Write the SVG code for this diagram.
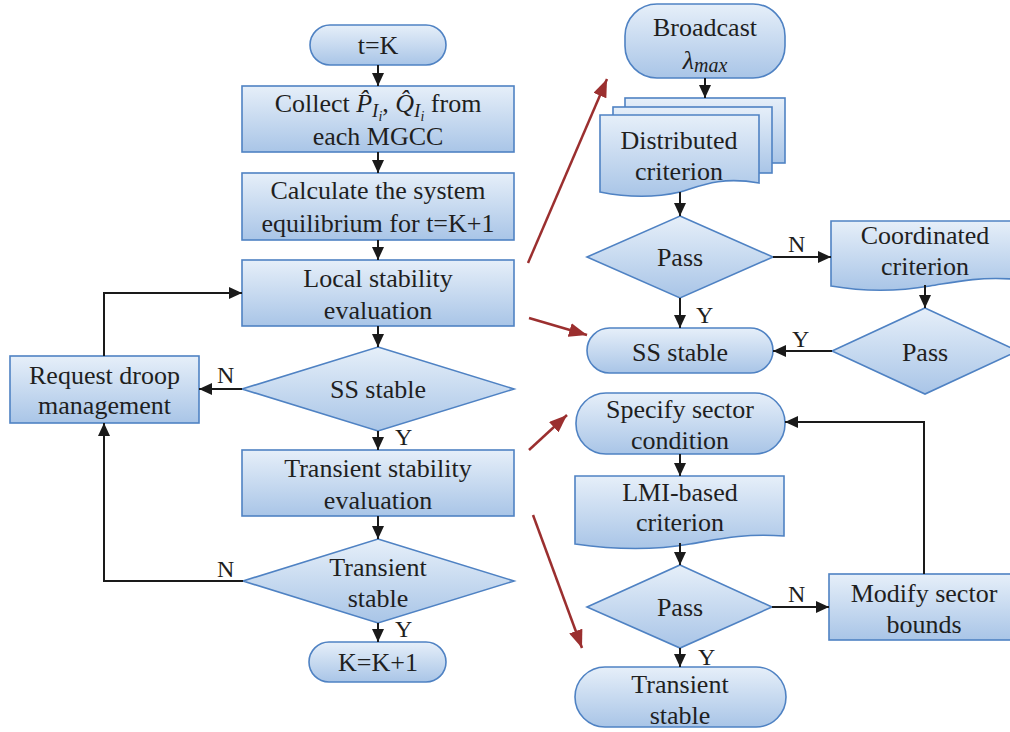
<svg xmlns="http://www.w3.org/2000/svg" width="1010" height="732" viewBox="0 0 1010 732">
  <defs>
    <linearGradient id="fillBlue" x1="0" y1="0" x2="0" y2="1">
      <stop offset="0" stop-color="#e6eff9"/>
      <stop offset="1" stop-color="#a9c5e7"/>
    </linearGradient>
    <marker id="arrowBlack" markerWidth="13" markerHeight="12" refX="13" refY="6" orient="auto" markerUnits="userSpaceOnUse">
      <path d="M0,0 L13,6 L0,12 z" fill="#1a1a1a"/>
    </marker>
    <marker id="arrowRed" markerWidth="18" markerHeight="14" refX="18" refY="7" orient="auto" markerUnits="userSpaceOnUse">
      <path d="M0,0 L18,7 L0,14 z" fill="#9b2f2f"/>
    </marker>
  </defs>
  <style>
    .shape { fill: url(#fillBlue); stroke: #4f82c3; stroke-width: 1.6; }
    .label { font-family: "Liberation Serif", "Times New Roman", serif; font-size: 26px; fill: #1f1f1f; text-anchor: middle; }
    .yn { font-family: "Liberation Serif", "Times New Roman", serif; font-size: 24px; fill: #1f1f1f; }
    .conn { fill: none; stroke: #1a1a1a; stroke-width: 2; marker-end: url(#arrowBlack); }
    .link { fill: none; stroke: #9b2f2f; stroke-width: 2.5; marker-end: url(#arrowRed); }
  </style>

  <!-- Left column: main procedure -->
  <g id="start">
    <rect class="shape" x="310" y="25" width="136" height="40" rx="20"/>
    <text class="label" x="378" y="54">t=K</text>
  </g>
  <g id="collect">
    <rect class="shape" x="242" y="86" width="272" height="66"/>
    <text class="label" x="378" y="112">Collect <tspan font-style="italic">P̂</tspan><tspan font-style="italic" font-size="19" dy="5">I</tspan><tspan font-style="italic" font-size="14" dy="4">i</tspan><tspan dy="-9">, </tspan><tspan font-style="italic">Q̂</tspan><tspan font-style="italic" font-size="19" dy="5">I</tspan><tspan font-style="italic" font-size="14" dy="4">i</tspan><tspan dy="-9"> from</tspan></text>
    <text class="label" x="378" y="145">each MGCC</text>
  </g>
  <g id="calculate">
    <rect class="shape" x="242" y="173" width="272" height="67"/>
    <text class="label" x="378" y="199">Calculate the system</text>
    <text class="label" x="378" y="232">equilibrium for t=K+1</text>
  </g>
  <g id="local-eval">
    <rect class="shape" x="242" y="260" width="272" height="66"/>
    <text class="label" x="378" y="287">Local stability</text>
    <text class="label" x="378" y="319">evaluation</text>
  </g>
  <g id="ss-check">
    <path class="shape" d="M378,347 L514,389 L378,431 L242,389 Z"/>
    <text class="label" x="378" y="398">SS stable</text>
  </g>
  <g id="droop">
    <rect class="shape" x="10" y="356" width="189" height="67"/>
    <text class="label" x="104.5" y="384">Request droop</text>
    <text class="label" x="104.5" y="414">management</text>
  </g>
  <g id="transient-eval">
    <rect class="shape" x="242" y="450" width="272" height="66"/>
    <text class="label" x="378" y="477">Transient stability</text>
    <text class="label" x="378" y="509">evaluation</text>
  </g>
  <g id="transient-check">
    <path class="shape" d="M378,539 L514,581 L378,623 L243,581 Z"/>
    <text class="label" x="378" y="576">Transient</text>
    <text class="label" x="378" y="607">stable</text>
  </g>
  <g id="next-step">
    <rect class="shape" x="309" y="642" width="137" height="40" rx="20"/>
    <text class="label" x="378" y="671">K=K+1</text>
  </g>

  <!-- Right top: steady-state criterion -->
  <g id="broadcast">
    <rect class="shape" x="625" y="4" width="160" height="74" rx="32"/>
    <text class="label" x="705" y="36">Broadcast</text>
    <text class="label" x="705" y="69"><tspan font-style="italic">λ</tspan><tspan font-style="italic" font-size="20" dy="3">max</tspan></text>
  </g>
  <g id="distributed">
    <rect class="shape" x="625" y="98" width="160" height="65"/>
    <rect class="shape" x="613" y="107" width="159" height="66"/>
    <path class="shape" d="M600,115 H759 V183 C720,176 700,186 680,192 C650,199 625,197 600,192 Z"/>
    <text class="label" x="679" y="149">Distributed</text>
    <text class="label" x="679" y="180">criterion</text>
  </g>
  <g id="pass-distributed">
    <path class="shape" d="M680,216 L773,257 L680,298 L587,257 Z"/>
    <text class="label" x="680" y="266">Pass</text>
  </g>
  <g id="coordinated">
    <path class="shape" d="M831,221 H1012 V279 C975,277 955,282 930,286 C895,292 860,291 831,286 Z"/>
    <text class="label" x="925" y="244">Coordinated</text>
    <text class="label" x="925" y="275">criterion</text>
  </g>
  <g id="pass-coordinated">
    <path class="shape" d="M925,308 L1018,351 L925,394 L832,351 Z"/>
    <text class="label" x="925" y="361">Pass</text>
  </g>
  <g id="ss-stable">
    <rect class="shape" x="587" y="328" width="186" height="45" rx="22.5"/>
    <text class="label" x="680" y="361">SS stable</text>
  </g>

  <!-- Right bottom: transient criterion -->
  <g id="sector">
    <rect class="shape" x="576" y="393" width="209" height="61" rx="30"/>
    <text class="label" x="680" y="418">Specify sector</text>
    <text class="label" x="680" y="449">condition</text>
  </g>
  <g id="lmi">
    <path class="shape" d="M575,476 H784 V536 C740,533 715,540 690,544 C650,551 610,549 575,544 Z"/>
    <text class="label" x="680" y="501">LMI-based</text>
    <text class="label" x="680" y="531">criterion</text>
  </g>
  <g id="pass-lmi">
    <path class="shape" d="M680,565 L772,607 L680,648 L587,607 Z"/>
    <text class="label" x="680" y="616">Pass</text>
  </g>
  <g id="modify">
    <rect class="shape" x="829" y="574" width="183" height="66"/>
    <text class="label" x="924" y="602">Modify sector</text>
    <text class="label" x="924" y="633">bounds</text>
  </g>
  <g id="transient-stable">
    <rect class="shape" x="575" y="667" width="211" height="60" rx="30"/>
    <text class="label" x="680" y="693">Transient</text>
    <text class="label" x="680" y="724">stable</text>
  </g>

  <!-- Connectors -->
  <g id="connectors">
    <line class="conn" x1="378" y1="65" x2="378" y2="86"/>
    <line class="conn" x1="378" y1="152" x2="378" y2="173"/>
    <line class="conn" x1="378" y1="240" x2="378" y2="260"/>
    <line class="conn" x1="378" y1="326" x2="378" y2="347"/>
    <line class="conn" x1="378" y1="431" x2="378" y2="450"/>
    <line class="conn" x1="378" y1="516" x2="378" y2="539"/>
    <line class="conn" x1="378" y1="623" x2="378" y2="642"/>
    <line class="conn" x1="242" y1="389" x2="199" y2="389"/>
    <polyline class="conn" points="104,356 104,293 242,293"/>
    <polyline class="conn" points="243,581 104,581 104,423"/>

    <line class="conn" x1="705" y1="78" x2="705" y2="98"/>
    <line class="conn" x1="680" y1="192" x2="680" y2="216"/>
    <line class="conn" x1="773" y1="257" x2="831" y2="257"/>
    <line class="conn" x1="680" y1="298" x2="680" y2="328"/>
    <line class="conn" x1="925" y1="285" x2="925" y2="308"/>
    <line class="conn" x1="832" y1="351" x2="773" y2="351"/>

    <line class="conn" x1="680" y1="454" x2="680" y2="476"/>
    <line class="conn" x1="680" y1="543" x2="680" y2="565"/>
    <line class="conn" x1="772" y1="607" x2="829" y2="607"/>
    <line class="conn" x1="680" y1="648" x2="680" y2="667"/>
    <polyline class="conn" points="924,574 924,422 785,422"/>

    <line class="link" x1="528" y1="263" x2="607" y2="79"/>
    <line class="link" x1="529" y1="318" x2="587" y2="335"/>
    <line class="link" x1="529" y1="450" x2="567" y2="415"/>
    <line class="link" x1="533" y1="515" x2="582" y2="648"/>

    <text class="yn" x="217" y="383">N</text>
    <text class="yn" x="395" y="445">Y</text>
    <text class="yn" x="217" y="577">N</text>
    <text class="yn" x="395" y="637">Y</text>
    <text class="yn" x="788" y="252">N</text>
    <text class="yn" x="696" y="323">Y</text>
    <text class="yn" x="792" y="347">Y</text>
    <text class="yn" x="788" y="602">N</text>
    <text class="yn" x="698" y="665">Y</text>
  </g>
</svg>
